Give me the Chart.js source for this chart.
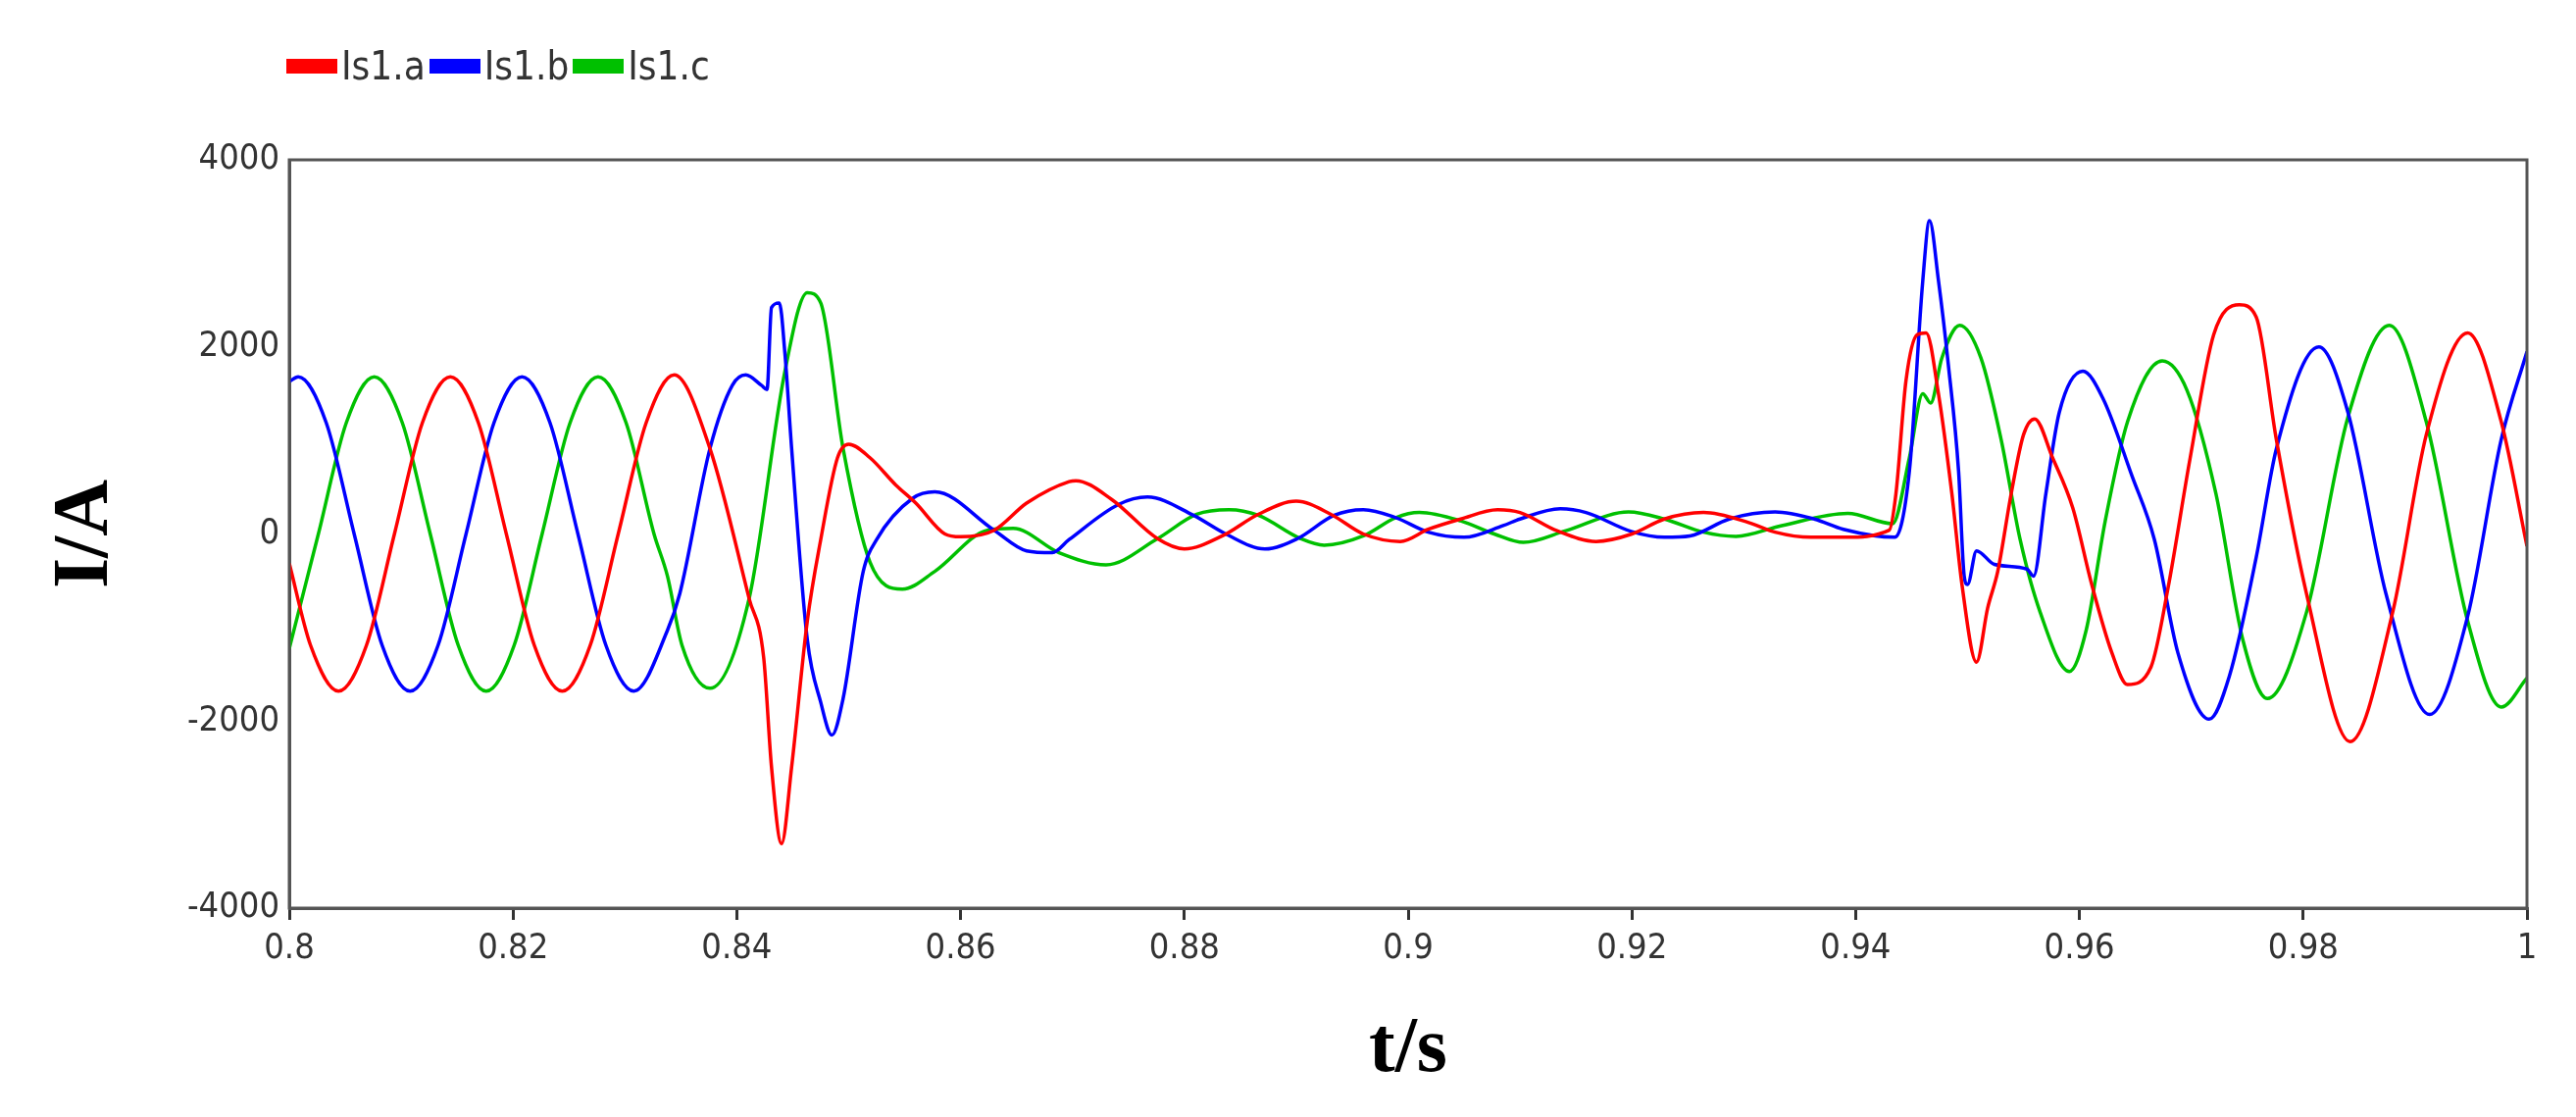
<!DOCTYPE html>
<html lang="en">
<head>
    <meta charset="UTF-8">
    <title>Is1 currents</title>
    <script src="https://cdn.jsdelivr.net/npm/chart.js"></script>
    <style>
        body { margin: 0; background: #fff; }
        #wrap { position: relative; width: 2627px; height: 1139px; }
        #legend {
            position: absolute; left: 292px; top: 44px;
            font-family: "Liberation Sans Narrow", "DejaVu Sans Condensed", sans-serif;
            font-size: 40px; color: #333; display: flex; align-items: center;
        }
        #legend span.box { display: inline-block; width: 52px; height: 15px; margin-right: 4px; }
        #legend span.lbl { margin-right: 4px; }
    </style>
</head>
<body>
<div id="wrap">
    <canvas id="chart" width="2627" height="1139"></canvas>
    <div id="legend"></div>
</div>
<script>
    // values (t in s, current in A)
    const tA = [0.8, 0.8019, 0.8044, 0.8069, 0.8094, 0.8119, 0.8144, 0.8169, 0.8194, 0.8219, 0.8244, 0.8269, 0.8294, 0.8319, 0.8344,
        0.8376, 0.8411, 0.8424, 0.8431, 0.8440, 0.8449, 0.8463, 0.8475, 0.8490, 0.8500, 0.8519, 0.8542, 0.8560, 0.8586, 0.8600, 0.8630,
        0.8659, 0.8697, 0.8703, 0.8735, 0.8776, 0.8800, 0.8834, 0.8866, 0.8900, 0.8931, 0.8960, 0.8993, 0.9018, 0.9047, 0.9080, 0.9100,
        0.9133, 0.9168, 0.9200, 0.9229, 0.9264, 0.9305, 0.9328, 0.9360, 0.9390, 0.9430, 0.9436, 0.9445, 0.9455, 0.9463, 0.9474, 0.9486,
        0.9495, 0.9508, 0.9518, 0.9527, 0.9539, 0.9550, 0.9560, 0.9576, 0.9594, 0.9611, 0.9629, 0.9643, 0.9664, 0.9679, 0.9699, 0.9720,
        0.9743, 0.9758, 0.9776, 0.9803, 0.9842, 0.9880, 0.9910, 0.9947, 0.9977, 1.0];
    const iA = [-315, -1190, -1680, -1190, 0, 1190, 1680, 1190, 0, -1190, -1680, -1190, 0, 1190, 1700,
        913, -690, -1320, -2490, -3310, -2490, -930, -60, 815, 960, 815, 525, 330, 0, -30, 40,
        330, 560, 570, 370, -50, -160, -20, 210, 350, 210, 0, -80, 50, 160, 260, 230,
        35, -80, 0, 160, 230, 120, 20, -35, -35, 40, 430, 1640, 2130, 2150, 1500, 430,
        -540, -1370, -790, -400, 430, 1060, 1230, 815, 280, -540, -1270, -1610, -1420, -590, 815, 2130,
        2450, 2320, 1010, -640, -2220, -835, 1060, 2150, 1200, -130];

    const tB = [0.8, 0.8008, 0.8033, 0.8058, 0.8083, 0.8108, 0.8133, 0.8158, 0.8183, 0.8208, 0.8233, 0.8258, 0.8283, 0.8308, 0.8338,
        0.8349, 0.8376, 0.8396, 0.8408, 0.8422, 0.8427, 0.8431, 0.8438, 0.8443, 0.8449, 0.8463, 0.8475, 0.8485, 0.8495, 0.8513, 0.8525,
        0.8557, 0.8577, 0.8630, 0.8659, 0.8682, 0.8697, 0.8741, 0.8767, 0.8808, 0.8837, 0.8872, 0.8901, 0.8934, 0.8960, 0.8989, 0.9018,
        0.9050, 0.9085, 0.9100, 0.9136, 0.9159, 0.9200, 0.9229, 0.9252, 0.9287, 0.9328, 0.9363, 0.9389, 0.9435, 0.9448, 0.9460, 0.9466,
        0.9474, 0.9483, 0.9492, 0.9497, 0.9500, 0.9508, 0.9524, 0.9553, 0.9559, 0.9570, 0.9582, 0.9603, 0.9621, 0.9647, 0.9667, 0.9688,
        0.9716, 0.9734, 0.9758, 0.9776, 0.9814, 0.9840, 0.9874, 0.9913, 0.9947, 0.9977, 1.0];
    const iB = [1630, 1680, 1190, 0, -1190, -1680, -1190, 0, 1190, 1680, 1190, 0, -1190, -1680, -1030,
        -640, 913, 1590, 1700, 1590, 1545, 2420, 2470, 1930, 913, -1130, -1800, -2150, -1760, -400, -60,
        380, 450, 40, -180, -200, -60, 315, 395, 200, 0, -160, -50, 200, 260, 175, 20,
        -35, 90, 160, 270, 230, 25, -35, -20, 160, 235, 160, 50, -35, 670, 2710, 3350,
        2710, 1790, 670, -450, -540, -180, -325, -375, -450, 430, 1300, 1740, 1450, 620, -60, -1270,
        -1980, -1520, -250, 910, 2000, 1300, -640, -1930, -880, 1010, 1950];

    const tC = [0.8, 0.8026, 0.8051, 0.8076, 0.8101, 0.8126, 0.8151, 0.8176, 0.8201, 0.8226, 0.8251, 0.8276, 0.8301, 0.8326, 0.8338,
        0.8351, 0.8376, 0.8411, 0.8443, 0.8463, 0.8475, 0.8495, 0.8519, 0.8548, 0.8577, 0.8624, 0.8647, 0.8688, 0.8730, 0.8776, 0.8811,
        0.8840, 0.8866, 0.8904, 0.8925, 0.8960, 0.8989, 0.9010, 0.9047, 0.9077, 0.9103, 0.9141, 0.9197, 0.9229, 0.9264, 0.9293, 0.9334,
        0.9393, 0.9433, 0.9448, 0.9460, 0.9467, 0.9477, 0.9493, 0.9512, 0.9530, 0.9547, 0.9565, 0.9591, 0.9606, 0.9623, 0.9643, 0.9674,
        0.9696, 0.9722, 0.9746, 0.9768, 0.9803, 0.9840, 0.9877, 0.9910, 0.9947, 0.9977, 1.0];
    const iC = [-1225, 0, 1190, 1680, 1190, 0, -1190, -1680, -1190, 0, 1190, 1680, 1190, 0, -450,
        -1190, -1650, -690, 1740, 2580, 2470, 913, -300, -590, -400, 40, 60, -200, -330, -50, 210,
        260, 200, -50, -120, -20, 175, 230, 140, 0, -90, 35, 235, 160, 20, -25, 90,
        220, 110, 815, 1500, 1400, 1880, 2230, 1880, 1010, -60, -840, -1470, -1030, 135, 1200, 1850,
        1540, 430, -1130, -1760, -835, 1250, 2230, 1200, -930, -1850, -1540];

    const seriesNames = ['Is1.a', 'Is1.b', 'Is1.c'];
    const seriesColors = ['#ff0000', '#0000ff', '#00c000'];
    const xTicks = [0.8, 0.82, 0.84, 0.86, 0.88, 0.9, 0.92, 0.94, 0.96, 0.98, 1];
    const yTicks = [-4000, -2000, 0, 2000, 4000];

    function pts(t, v) {
        return t.map((x, i) => ({ x: x, y: v[i] }));
    }

    const tickFont = { family: '"Liberation Sans Narrow", "DejaVu Sans Condensed", sans-serif', size: 36 };
    const titleFont = { family: '"Liberation Serif", "Times New Roman", serif', size: 80, weight: 'bold' };

    // box around the plot area
    const frame = {
        id: 'frame',
        afterDraw(chart) {
            const a = chart.chartArea, ctx = chart.ctx;
            ctx.save();
            ctx.strokeStyle = '#555';
            ctx.lineWidth = 3;
            ctx.strokeRect(a.left, a.top, a.right - a.left, a.bottom - a.top);
            ctx.restore();
        }
    };

    const datasets = [pts(tA, iA), pts(tB, iB), pts(tC, iC)].map((d, i) => ({
        label: seriesNames[i],
        data: d,
        borderColor: seriesColors[i],
        borderWidth: 3.5,
        pointRadius: 0,
        cubicInterpolationMode: 'monotone'
    }));

    new Chart(document.getElementById('chart'), {
        type: 'line',
        data: { datasets: datasets },
        plugins: [frame],
        options: {
            responsive: false,
            animation: false,
            layout: { padding: { left: 40, right: 50, top: 163, bottom: 20 } },
            plugins: { legend: { display: false }, tooltip: { enabled: false } },
            scales: {
                x: {
                    type: 'linear', min: 0.8, max: 1,
                    afterBuildTicks: s => { s.ticks = xTicks.map(v => ({ value: v })); },
                    afterFit: s => { s.height = 1139 - 926 - 20; },
                    grid: { drawOnChartArea: false, tickLength: 12, color: '#333', lineWidth: 3 },
                    border: { color: '#555', width: 3 },
                    ticks: { color: '#333', font: tickFont, padding: 8, maxRotation: 0, callback: v => String(+v.toFixed(2)) },
                    title: { display: true, text: 't/s', color: '#000', padding: { top: 10, bottom: 0 }, font: titleFont }
                },
                y: {
                    min: -4000, max: 4000,
                    afterBuildTicks: s => { s.ticks = yTicks.map(v => ({ value: v })); },
                    afterFit: s => { s.width = 295 - 40; },
                    grid: { drawOnChartArea: false, drawTicks: false },
                    border: { color: '#555', width: 3 },
                    ticks: { color: '#333', font: tickFont, padding: 10, callback: v => String(v) },
                    title: { display: true, text: 'I/A', color: '#000', padding: 0, font: titleFont }
                }
            }
        }
    });

    // legend as html
    const legend = document.getElementById('legend');
    seriesNames.forEach((n, i) => {
        const b = document.createElement('span');
        b.className = 'box';
        b.style.background = seriesColors[i];
        const l = document.createElement('span');
        l.className = 'lbl';
        l.textContent = n;
        legend.appendChild(b);
        legend.appendChild(l);
    });
</script>
</body>
</html>
